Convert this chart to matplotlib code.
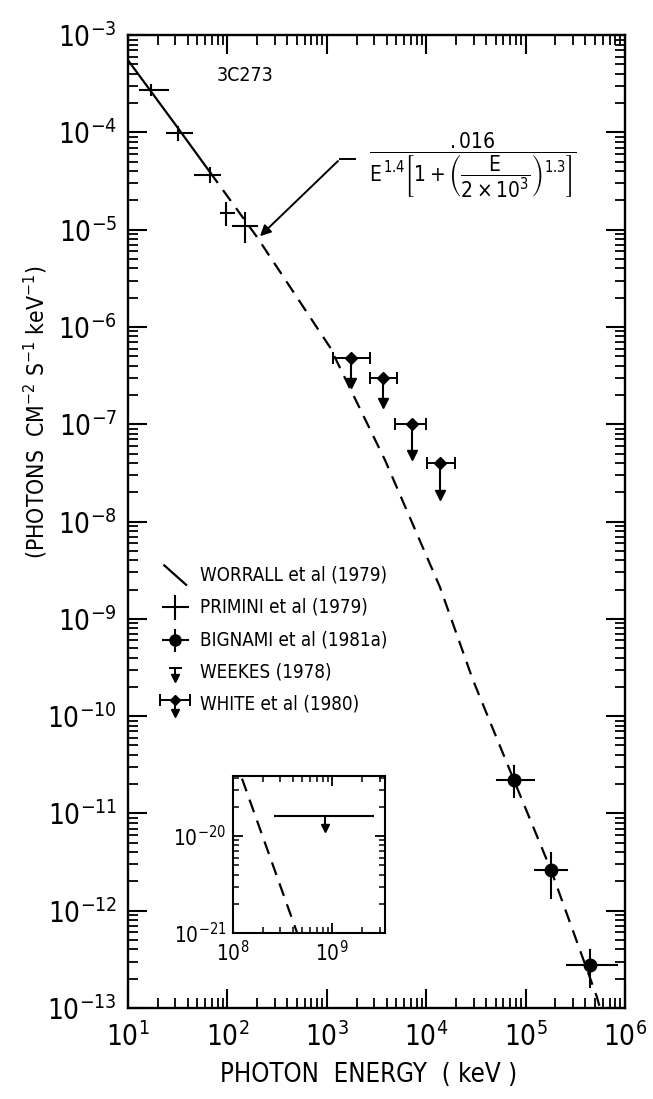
import matplotlib
matplotlib.use('Agg')
import matplotlib.pyplot as plt
from matplotlib.ticker import FixedLocator, FuncFormatter, LogLocator, NullFormatter

# font settings
fam = ['Liberation Sans Narrow', 'DejaVu Sans Condensed', 'DejaVu Sans']
plt.rcParams['font.family'] = fam
plt.rcParams['font.stretch'] = 'condensed'
plt.rcParams['mathtext.fontset'] = 'dejavusans'
plt.rcParams['mathtext.default'] = 'regular'

# 1. model curve (keV, photons/cm2/s/keV)
curve_E = [10, 31.8, 66.8, 199, 1076, 3855, 13770, 29580, 76380, 180300, 522400, 561000]
curve_F = [5.53e-4, 1.11e-4, 3.91e-5, 8.39e-6, 6.21e-7, 4.29e-8, 2.12e-9, 2.35e-10,
           2.20e-11, 2.62e-12, 1.30e-13, 1.0e-13]
n_solid = 3  # WORRALL part drawn solid

# 2. PRIMINI et al (1979)
prim_E = [17.0, 31.8, 66.8, 96.8, 150]
prim_F = [2.72e-4, 9.84e-5, 3.64e-5, 1.48e-5, 1.09e-5]
prim_Elo = [13.2, 24.7, 47.2, 86.3, 114]
prim_Ehi = [25.2, 44, 84.3, 116, 199]
prim_Flo = [2.41e-4, 8.3e-5, 3.08e-5, 1.11e-5, 7.46e-6]
prim_Fhi = [3.06e-4, 1.13e-4, 4.3e-5, 1.87e-5, 1.48e-5]

# 3. BIGNAMI et al (1981a)
big_E = [7.64e4, 1.80e5, 4.45e5]
big_F = [2.2e-11, 2.62e-12, 2.77e-13]
big_Elo = [5.15e4, 1.24e5, 2.6e5]
big_Ehi = [1.22e5, 2.61e5, 8.3e5]
big_Flo = [1.48e-11, 1.35e-12, 1.66e-13]
big_Fhi = [3.07e-11, 3.9e-12, 3.98e-13]

# 4. WHITE et al (1980) upper limits
white_E = [1750, 3673, 7190, 13770]
white_F = [4.79e-7, 2.98e-7, 1.0e-7, 3.99e-8]
white_Elo = [1153, 2722, 4850, 10190]
white_Ehi = [2722, 5080, 9950, 19500]
white_Fend = [2.65e-7, 1.65e-7, 4.82e-8, 1.87e-8]

# 5. inset: WEEKES (1978) and model
wk_E = [2.66e8, 2.6e9]
wk_F = 1.61e-20
wk_Earrow = 8.5e8
wk_Fend = 1.2e-20
ins_E = [1.23e8, 4.43e8]
ins_F = [3.9e-20, 1.0e-21]

xdec = [1, 2, 3, 4, 5, 6]
ydec = [-3, -4, -5, -6, -7, -8, -9, -10, -11, -12, -13]

def dec_fmt(v, pos):
    import math
    return r'$10^{%d}$' % round(math.log10(v))

fig = plt.figure(figsize=(6.53, 10.99), dpi=100)
ax = fig.add_axes([0.196, 0.0828, 0.761, 0.8852])
ax.set_xscale('log')
ax.set_yscale('log')
ax.set_xlim(10, 1e6)
ax.set_ylim(1e-13, 1e-3)

lw = 1.6
ax.plot(curve_E[:n_solid], curve_F[:n_solid], color='k', lw=lw)
ax.plot(curve_E[n_solid - 1:], curve_F[n_solid - 1:], color='k', lw=lw, dashes=(6, 4))

for i in range(len(prim_E)):
    ax.plot([prim_Elo[i], prim_Ehi[i]], [prim_F[i], prim_F[i]], color='k', lw=1.5)
    ax.plot([prim_E[i], prim_E[i]], [prim_Flo[i], prim_Fhi[i]], color='k', lw=1.5)

for i in range(len(big_E)):
    ax.plot([big_Elo[i], big_Ehi[i]], [big_F[i], big_F[i]], color='k', lw=1.5)
    ax.plot([big_E[i], big_E[i]], [big_Flo[i], big_Fhi[i]], color='k', lw=1.5)
ax.plot(big_E, big_F, 'o', color='k', ms=9)

for i in range(len(white_E)):
    ax.errorbar(white_E[i], white_F[i],
                xerr=[[white_E[i] - white_Elo[i]], [white_Ehi[i] - white_E[i]]],
                fmt='D', color='k', ms=6, capsize=4, elinewidth=1.4, capthick=1.4)
    ax.plot([white_E[i], white_E[i]], [white_F[i], white_Fend[i]], color='k', lw=1.5)
    ax.plot(white_E[i], white_Fend[i], 'v', color='k', ms=7)

# ticks
ax.xaxis.set_major_locator(FixedLocator([10.0 ** d for d in xdec]))
ax.yaxis.set_major_locator(FixedLocator([10.0 ** d for d in ydec]))
ax.xaxis.set_minor_locator(LogLocator(base=10, subs=range(2, 10), numticks=20))
ax.yaxis.set_minor_locator(LogLocator(base=10, subs=range(2, 10), numticks=20))
ax.xaxis.set_minor_formatter(NullFormatter())
ax.yaxis.set_minor_formatter(NullFormatter())
ax.xaxis.set_major_formatter(FuncFormatter(dec_fmt))
ax.yaxis.set_major_formatter(FuncFormatter(dec_fmt))
ax.tick_params(which='both', direction='in', top=True, right=True, labelsize=20)
ax.tick_params(which='major', length=14, width=1.5)
ax.tick_params(which='minor', length=7, width=1.3)
ax.tick_params(axis='x', pad=10)
ax.tick_params(axis='y', pad=8)
for s in ax.spines.values():
    s.set_linewidth(1.7)

# text
ax.text(0.235, 0.959, '3C273', transform=ax.transAxes, fontsize=14, va='center', ha='center')
ax.text(0.694, 0.866,
        r'$\dfrac{.016}{E^{\,1.4}\left[1+\left(\dfrac{E}{2\times10^{3}}\right)^{1.3}\right]}$',
        transform=ax.transAxes, fontsize=15, ha='center', va='center')
ax.annotate('', xy=(203, 8.2e-6), xytext=(1358, 5.32e-5),
            arrowprops=dict(arrowstyle='-|>', lw=1.4, color='k', mutation_scale=16))
ax.plot([1358, 1923], [5.32e-5, 5.32e-5], color='k', lw=1.4)

# legend drawn by hand
tr = ax.transAxes
sx = 0.095
tx = 0.145
ly = [0.445, 0.412, 0.378, 0.345, 0.313]
names = ['WORRALL et al (1979)', 'PRIMINI et al (1979)', 'BIGNAMI et al (1981a)',
         'WEEKES (1978)', 'WHITE et al (1980)']
kw = dict(transform=tr, clip_on=False, color='k')
ax.plot([sx - 0.022, sx + 0.022], [ly[0] + 0.010, ly[0] - 0.010], lw=1.6, **kw)
ax.plot([sx - 0.025, sx + 0.025], [ly[1], ly[1]], lw=1.5, **kw)
ax.plot([sx, sx], [ly[1] - 0.012, ly[1] + 0.012], lw=1.5, **kw)
ax.plot([sx - 0.025, sx + 0.025], [ly[2], ly[2]], lw=1.5, **kw)
ax.plot([sx, sx], [ly[2] - 0.011, ly[2] + 0.011], lw=1.5, **kw)
ax.plot([sx], [ly[2]], 'o', ms=8, **kw)
ax.plot([sx - 0.011, sx + 0.011], [ly[3] + 0.005, ly[3] + 0.005], lw=1.4, **kw)
ax.plot([sx, sx], [ly[3] + 0.005, ly[3] - 0.005], lw=1.4, **kw)
ax.plot([sx], [ly[3] - 0.006], 'v', ms=6, **kw)
ax.errorbar([sx], [ly[4] + 0.004], xerr=[0.03], fmt='D', ms=5, capsize=4,
            elinewidth=1.4, capthick=1.4, **kw)
ax.plot([sx, sx], [ly[4] + 0.004, ly[4] - 0.009], lw=1.4, **kw)
ax.plot([sx], [ly[4] - 0.010], 'v', ms=6, **kw)
for y, t in zip(ly, names):
    ax.text(tx, y, t, transform=tr, fontsize=13.5, va='center', ha='left')

# inset
ins = fig.add_axes([0.357, 0.151, 0.233, 0.143])
ins.set_xscale('log')
ins.set_yscale('log')
ins.set_xlim(1e8, 3.43e9)
ins.set_ylim(1e-21, 4.17e-20)
ins.plot(ins_E, ins_F, color='k', lw=1.6, dashes=(6, 4))
ins.plot(wk_E, [wk_F, wk_F], color='k', lw=1.5)
ins.plot([wk_Earrow, wk_Earrow], [wk_F, wk_Fend], color='k', lw=1.5)
ins.plot(wk_Earrow, wk_Fend, 'v', color='k', ms=6)
ins.xaxis.set_major_locator(FixedLocator([1e8, 1e9]))
ins.yaxis.set_major_locator(FixedLocator([1e-21, 1e-20]))
ins.xaxis.set_minor_locator(LogLocator(base=10, subs=range(2, 10), numticks=20))
ins.yaxis.set_minor_locator(LogLocator(base=10, subs=range(2, 10), numticks=20))
ins.xaxis.set_minor_formatter(NullFormatter())
ins.yaxis.set_minor_formatter(NullFormatter())
ins.xaxis.set_major_formatter(FuncFormatter(dec_fmt))
ins.yaxis.set_major_formatter(FuncFormatter(dec_fmt))
ins.tick_params(which='both', direction='in', top=True, right=True, labelsize=15, pad=5)
ins.tick_params(which='major', length=7, width=1.3)
ins.tick_params(which='minor', length=4, width=1.1)
for s in ins.spines.values():
    s.set_linewidth(1.5)

fig.text(0.055, 0.625, r'(PHOTONS  CM$^{-2}$ S$^{-1}$ keV$^{-1}$)', rotation=90,
         fontsize=16.5, ha='center', va='center')
fig.text(0.565, 0.022, 'PHOTON  ENERGY  ( keV )', fontsize=18.5, ha='center', va='center')

fig.savefig('out.png', dpi=100)
